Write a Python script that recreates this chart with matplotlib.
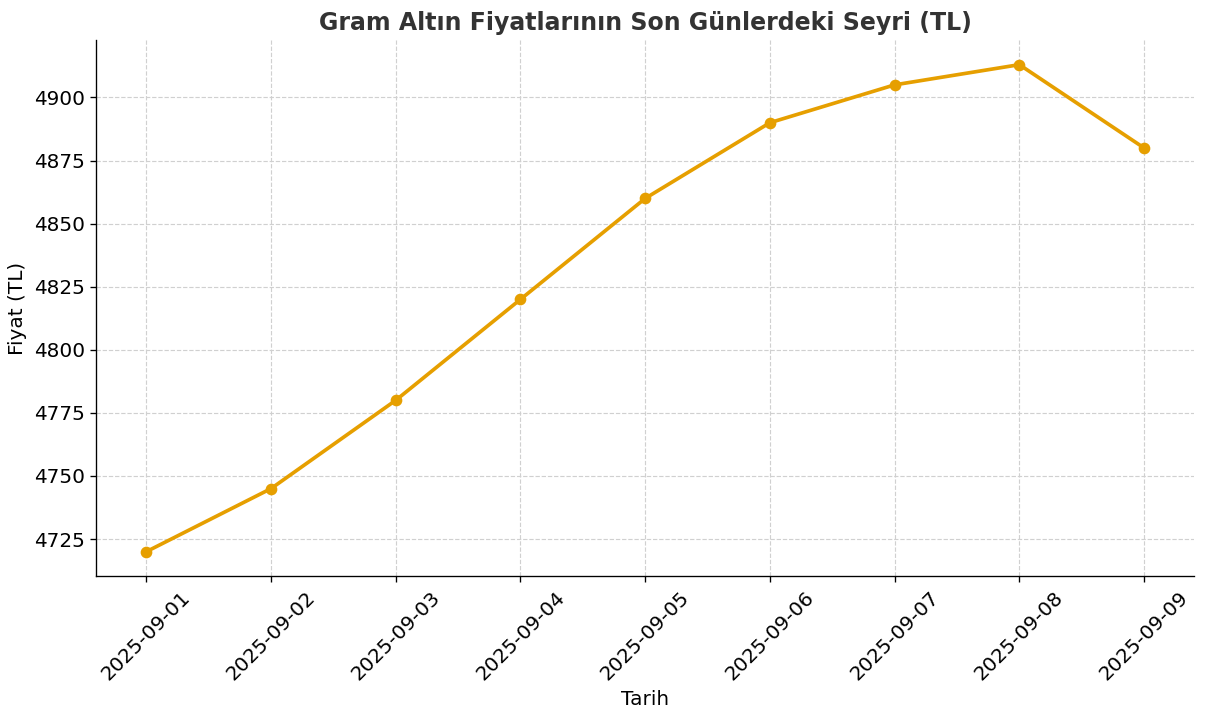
import matplotlib.pyplot as plt

dates = ['2025-09-01', '2025-09-02', '2025-09-03', '2025-09-04', '2025-09-05',
         '2025-09-06', '2025-09-07', '2025-09-08', '2025-09-09']
prices = [4720, 4745, 4780, 4820, 4860, 4890, 4905, 4913, 4880]

fig, ax = plt.subplots(figsize=(10.05, 6), dpi=120)
fig.subplots_adjust(left=0.080, right=0.990, top=0.944, bottom=0.200)

ax.plot(range(len(dates)), prices, marker='o', color='#E69F00', linewidth=2.2, markersize=6)

ax.set_xticks(range(len(dates)))
ax.set_xticklabels(dates, rotation=45, fontsize=12)
ax.tick_params(axis='y', labelsize=12)

ax.set_title('Gram Altın Fiyatlarının Son Günlerdeki Seyri (TL)', fontsize=14.2,
             fontweight='bold', color='#333333')
ax.set_xlabel('Tarih', fontsize=12)
ax.set_ylabel('Fiyat (TL)', fontsize=12)

ax.grid(True, linestyle='--', color='#d0d0d0', linewidth=0.7)
ax.spines['top'].set_visible(False)
ax.spines['right'].set_visible(False)

plt.savefig('out.png', dpi=120)
